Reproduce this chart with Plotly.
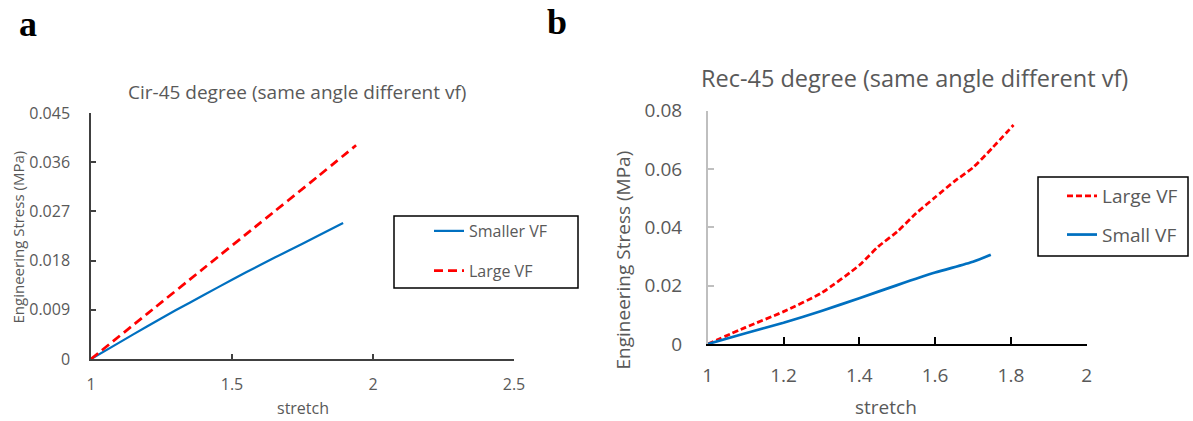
import plotly.graph_objects as go

# ---- panel a: Cir-45 degree ----
cir_small_x = [1.0, 1.1, 1.2, 1.3, 1.4, 1.5, 1.6, 1.7, 1.8, 1.894]
cir_small_y = [0.0, 0.0030, 0.0060, 0.0089, 0.0117, 0.0145, 0.0172, 0.0198, 0.0224, 0.0249]
cir_large_x = [1.0, 1.2, 1.4, 1.6, 1.8, 1.94]
cir_large_y = [0.0, 0.0083, 0.0166, 0.0249, 0.0332, 0.0391]
cir_yticks = [0, 0.009, 0.018, 0.027, 0.036, 0.045]
cir_yticklabels = ["0", "0.009", "0.018", "0.027", "0.036", "0.045"]
cir_xticks = [1, 1.5, 2, 2.5]
cir_xticklabels = ["1", "1.5", "2", "2.5"]

# ---- panel b: Rec-45 degree ----
rec_large_x = [1.0, 1.1, 1.2, 1.3, 1.4, 1.45, 1.5, 1.55, 1.6, 1.65, 1.7, 1.75, 1.807]
rec_large_y = [0.0, 0.0057, 0.0111, 0.0175, 0.0270, 0.0334, 0.0385, 0.0448, 0.0503, 0.0557, 0.0605, 0.0671, 0.0751]
rec_small_x = [1.0, 1.1, 1.2, 1.3, 1.4, 1.5, 1.6, 1.7, 1.747]
rec_small_y = [0.0, 0.0037, 0.0073, 0.0113, 0.0157, 0.0202, 0.0245, 0.0282, 0.0306]
rec_yticks = [0, 0.02, 0.04, 0.06, 0.08]
rec_yticklabels = ["0", "0.02", "0.04", "0.06", "0.08"]
rec_xticks = [1, 1.2, 1.4, 1.6, 1.8, 2]
rec_xticklabels = ["1", "1.2", "1.4", "1.6", "1.8", "2"]

W, H = 1193, 421
RED = "#FF0000"
BLUE = "#0070C0"
GREY = "#595959"
FONT = "Open Sans"


def px(x):
    return x / W


def py(y):
    return 1 - y / H


fig = go.Figure()

fig.add_trace(go.Scatter(x=cir_small_x, y=cir_small_y, mode="lines", name="Smaller VF",
                         line=dict(color=BLUE, width=2.25, shape="spline", smoothing=0.6),
                         xaxis="x", yaxis="y", legend="legend", legendgroup="a1"))
fig.add_trace(go.Scatter(x=cir_large_x, y=cir_large_y, mode="lines", name="Large VF",
                         line=dict(color=RED, width=2.75, dash="9px,5px", shape="spline", smoothing=0.6),
                         xaxis="x", yaxis="y", legend="legend", legendgroup="a2"))
fig.add_trace(go.Scatter(x=rec_large_x, y=rec_large_y, mode="lines", name="Large VF",
                         line=dict(color=RED, width=2.75, dash="6px,3px", shape="spline", smoothing=0.6),
                         xaxis="x2", yaxis="y2", legend="legend2", legendgroup="b1"))
fig.add_trace(go.Scatter(x=rec_small_x, y=rec_small_y, mode="lines", name="Small VF",
                         line=dict(color=BLUE, width=2.75, shape="spline", smoothing=0.6),
                         xaxis="x2", yaxis="y2", legend="legend2", legendgroup="b2"))

axis_a = dict(showgrid=False, zeroline=False, showline=True, linecolor="#404040", linewidth=1.5,
              ticks="inside", ticklen=5, tickcolor="#404040", tickwidth=1.5,
              tickfont=dict(family=FONT, size=16, color=GREY))
axis_b_x = dict(showgrid=False, zeroline=False, showline=True, linecolor="#000000", linewidth=2,
                ticks="inside", ticklen=7, tickcolor="#000000", tickwidth=2,
                tickfont=dict(family=FONT, size=19, color=GREY))
axis_b_y = dict(showgrid=False, zeroline=False, showline=True, linecolor="#BFBFBF", linewidth=1.5,
                ticks="inside", ticklen=7, tickcolor="#BFBFBF", tickwidth=1.5,
                tickfont=dict(family=FONT, size=19, color=GREY))

fig.update_layout(
    width=W, height=H,
    margin=dict(l=0, r=0, t=0, b=0, autoexpand=False),
    paper_bgcolor="white", plot_bgcolor="white",
    font=dict(family=FONT, color=GREY),
    xaxis=dict(axis_a, domain=[px(91), px(514)], range=[1, 2.5], tickvals=cir_xticks,
               ticktext=cir_xticklabels, ticklabelstandoff=10, anchor="y"),
    yaxis=dict(axis_a, domain=[py(359), py(113)], range=[0, 0.045], tickvals=cir_yticks,
               ticktext=cir_yticklabels, ticklabelstandoff=16, anchor="x"),
    xaxis2=dict(axis_b_x, domain=[px(707.7), px(1086.7)], range=[1, 2], tickvals=rec_xticks,
                ticktext=rec_xticklabels, ticklabelstandoff=13, anchor="y2"),
    yaxis2=dict(axis_b_y, domain=[py(344), py(110.7)], range=[0, 0.08], tickvals=rec_yticks,
                ticktext=rec_yticklabels, ticklabelstandoff=20, anchor="x2"),
    legend=dict(x=px(429), y=py(214), xanchor="left", yanchor="top",
                bgcolor="rgba(0,0,0,0)", borderwidth=0, tracegroupgap=16,
                font=dict(family=FONT, size=16, color=GREY)),
    legend2=dict(x=px(1062), y=py(177), xanchor="left", yanchor="top",
                 bgcolor="rgba(0,0,0,0)", borderwidth=0, tracegroupgap=11,
                 font=dict(family=FONT, size=19, color=GREY)),
    showlegend=True,
)

# legend frames
fig.add_shape(type="rect", xref="paper", yref="paper",
              x0=px(394), x1=px(578), y0=py(216), y1=py(288),
              line=dict(color="#000000", width=1.5))
fig.add_shape(type="rect", xref="paper", yref="paper",
              x0=px(1038), x1=px(1188), y0=py(177), y1=py(256),
              line=dict(color="#000000", width=1.5))

annotations = [
    # panel letters
    dict(text="<b>a</b>", x=px(27.5), y=py(24), font=dict(family="Liberation Serif", size=36, color="#000000")),
    dict(text="<b>b</b>", x=px(556.5), y=py(22), font=dict(family="Liberation Serif", size=36, color="#000000")),
    # chart titles
    dict(text="Cir-45 degree (same angle different vf)", x=px(296.5), y=py(92),
         font=dict(family=FONT, size=19, color=GREY)),
    dict(text="Rec-45 degree (same angle different vf)", x=px(914.5), y=py(78),
         font=dict(family=FONT, size=23.5, color=GREY)),
    # axis titles
    dict(text="stretch", x=px(302.5), y=py(408), font=dict(family=FONT, size=16, color=GREY)),
    dict(text="stretch", x=px(886), y=py(407), font=dict(family=FONT, size=19, color=GREY)),
    dict(text="Engineering Stress (MPa)", x=px(17.5), y=py(237), textangle=-90,
         font=dict(family=FONT, size=15, color=GREY)),
    dict(text="Engineering Stress (MPa)", x=px(622.5), y=py(260), textangle=-90,
         font=dict(family=FONT, size=19, color=GREY)),
]
for a in annotations:
    a.update(xref="paper", yref="paper", xanchor="center", yanchor="middle", showarrow=False)
fig.update_layout(annotations=annotations)

fig.write_html("out.html")
